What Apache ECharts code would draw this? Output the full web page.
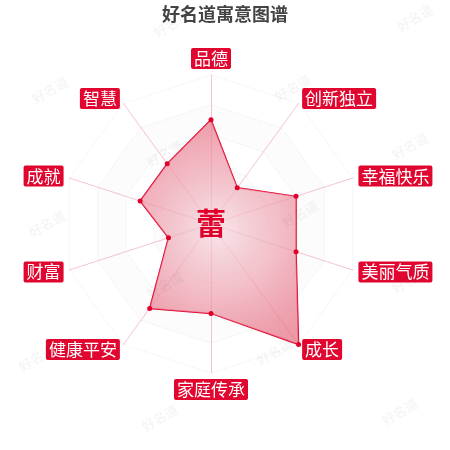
<!DOCTYPE html>
<html>
<head>
<meta charset="utf-8">
<script src="https://cdn.jsdelivr.net/npm/echarts@6/dist/echarts.min.js"></script>
<style>
html,body{margin:0;padding:0;background:#fff;}
#main{width:450px;height:450px;}
</style>
</head>
<body>
<div id="main"></div>
<script>
const titleText = '好名道寓意图谱';
const centerChar = '蕾';
const indicatorNames = ['品德', '智慧', '成就', '财富', '健康平安', '家庭传承', '成长', '美丽气质', '幸福快乐', '创新独立'];
const indicatorMax = 100;
const scoreValues = [70, 50, 50, 30, 70, 60, 100, 60, 60, 30];
const watermarkText = '好名道';
const watermarkSpots = [[172,24],[415,18],[50,90],[293,88],[165,154],[410,146],[47,224],[300,214],[165,285],[410,280],[37,358],[275,352],[160,418],[400,412]];

const chart = echarts.init(document.getElementById('main'), null, {renderer: 'canvas'});

const graphics = watermarkSpots.map(p => ({
  type: 'text',
  x: p[0], y: p[1],
  rotation: Math.PI / 6,
  z: 100,
  silent: true,
  style: {
    text: watermarkText,
    fill: 'rgba(0,0,0,0.04)',
    font: 'bold 13px "Noto Sans CJK SC"',
    align: 'center', verticalAlign: 'middle',
    textAlign: 'center', textVerticalAlign: 'middle'
  }
}));
graphics.push({
  type: 'text',
  x: 211, y: 223,
  z: 50,
  style: {
    text: centerChar,
    fill: '#e0002a',
    font: 'bold 30px "Noto Sans CJK SC"',
    align: 'center', verticalAlign: 'middle',
    textAlign: 'center', textVerticalAlign: 'middle'
  }
});

chart.setOption({
  animation: false,
  backgroundColor: '#fff',
  title: {
    text: titleText,
    left: 'center',
    top: 0,
    textStyle: {
      fontFamily: 'Noto Sans CJK SC',
      fontSize: 18,
      fontWeight: 'bold',
      color: '#444'
    }
  },
  graphic: graphics,
  radar: {
    center: [211, 224],
    radius: 149,
    startAngle: 90,
    splitNumber: 5,
    shape: 'polygon',
    nameGap: 6,
    indicator: indicatorNames.map(n => ({name: n, max: indicatorMax})),
    axisName: {
      color: '#fff',
      backgroundColor: '#e1062f',
      fontFamily: 'Noto Sans CJK SC',
      fontSize: 17,
      lineHeight: 17,
      padding: [2, 3],
      borderRadius: 2
    },
    axisLine: {lineStyle: {color: 'rgba(230,60,100,0.3)', width: 1}},
    splitLine: {lineStyle: {color: 'rgba(200,200,200,0.3)', width: 1, type: 'dotted'}},
    splitArea: {show: true, areaStyle: {color: ['rgba(255,255,255,0)', 'rgba(235,235,235,0.15)']}}
  },
  series: [{
    type: 'radar',
    symbol: 'circle',
    symbolSize: 5,
    itemStyle: {color: '#e0002a'},
    lineStyle: {color: '#e0002a', width: 1.5},
    areaStyle: {
      color: new echarts.graphic.RadialGradient(0.5, 0.5, 0.75, [
        {offset: 0, color: 'rgba(245,215,222,1)'},
        {offset: 1, color: 'rgba(230,110,130,1)'}
      ])
    },
    data: [{value: scoreValues, name: titleText}]
  }]
});
</script>
</body>
</html>
